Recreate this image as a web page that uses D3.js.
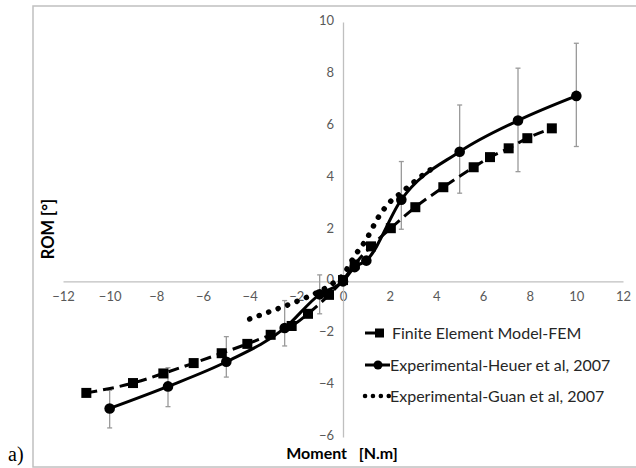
<!DOCTYPE html>
<html>
<head>
<meta charset="utf-8">
<script src="https://cdn.jsdelivr.net/npm/d3@7"></script>
<style>
  body { margin: 0; background: #fff; }
  svg { display: block; font-family: Lato, "Open Sans", sans-serif; }
  .axis text { fill: #595959; font-size: 13px; font-family: Lato, sans-serif; }
  .axis path { stroke: #bfbfbf; stroke-width: 1.3; }
</style>
</head>
<body>
<div id="chart"></div>
<script>
// 축 눈금
const xTicks = [-12, -10, -8, -6, -4, -2, 0, 2, 4, 6, 8, 10, 12];
const yTicks = [-6, -4, -2, 0, 2, 4, 6, 8, 10];

// 유한요소 모델 (FEM)
const femX = [-11, -9, -7.7, -6.4, -5.2, -4.1, -3.1, -2.2, -1.5, -0.6, 0, 0.5, 1.2, 2.05, 3.1, 4.3, 5.6, 6.3, 7.1, 7.9, 8.95];
const femY = [-4.3, -3.92, -3.55, -3.15, -2.77, -2.41, -2.06, -1.72, -1.25, -0.52, 0.05, 0.65, 1.35, 2.05, 2.86, 3.63, 4.4, 4.79, 5.13, 5.52, 5.9];

// 실험값 - Heuer et al, 2007 (오차막대 상한/하한)
const heuerX = [-10, -7.5, -5, -2.5, -1, 0, 0.5, 1, 2.5, 5, 7.5, 10];
const heuerY = [-4.9, -4.05, -3.1, -1.8, -0.5, 0, 0.55, 0.8, 3.15, 5.0, 6.2, 7.15];
const heuerHi = [-4.2, -3.33, -2.13, -0.74, 0.25, null, null, null, 4.62, 6.8, 8.22, 9.18];
const heuerLo = [-5.65, -4.83, -3.69, -2.49, -1.25, null, null, null, 2.01, 3.4, 4.23, 5.2];

// 실험값 - Guan et al, 2007
const guanX = [-4, -3, -2, -1, -0.5, 0, 0.5, 1, 1.5, 2, 2.5, 3, 3.5, 4];
const guanY = [-1.45, -1.12, -0.78, -0.38, -0.12, 0.25, 0.98, 1.62, 2.45, 3.05, 3.42, 3.8, 4.15, 4.45];

const legendLabels = ['Finite Element Model-FEM', 'Experimental-Heuer et al, 2007', 'Experimental-Guan et al, 2007'];

const W = 636, H = 468;
const svg = d3.select('#chart').append('svg').attr('width', W).attr('height', H);

// 바깥 테두리
svg.append('rect')
    .attr('x', 33).attr('y', 6).attr('width', 620).attr('height', 461)
    .attr('fill', 'none').attr('stroke', '#c0c0c0').attr('stroke-width', 1.5);

const x = d3.scaleLinear().domain([-12, 12]).range([63, 623]);
const y = d3.scaleLinear().domain([-6, 10]).range([437, 22]);

// x축 (y=0 위치)
svg.append('g')
    .attr('class', 'axis')
    .attr('transform', `translate(0,${y(0)})`)
    .call(d3.axisBottom(x).tickValues(xTicks).tickSize(0).tickPadding(12))
    .call(g => g.selectAll('text').attr('dy', '0.6em'));

// y축 (x=0 위치)
svg.append('g')
    .attr('class', 'axis')
    .attr('transform', `translate(${x(0)},0)`)
    .call(d3.axisLeft(y).tickValues(yTicks).tickSize(0).tickPadding(9))
    .call(g => g.selectAll('text').attr('dy', '0.2em'));

// 축 제목
svg.append('text')
    .attr('transform', `translate(54,229) rotate(-90)`)
    .attr('text-anchor', 'middle')
    .attr('font-size', 16.5).attr('font-weight', 'bold')
    .text('ROM [°]');

svg.append('text')
    .attr('x', 342).attr('y', 459)
    .attr('text-anchor', 'middle')
    .attr('font-size', 16).attr('font-weight', 'bold')
    .style('white-space', 'pre')
    .text('Moment   [N.m]');

// 선 생성기
const line = d3.line().x(d => x(d[0])).y(d => y(d[1])).curve(d3.curveMonotoneX);

const femData = femX.map((v, i) => [v, femY[i]]);
const heuerData = heuerX.map((v, i) => [v, heuerY[i], heuerHi[i], heuerLo[i]]);
const guanData = guanX.map((v, i) => [v, guanY[i]]);

// 오차막대
const eb = svg.append('g').attr('stroke', '#9a9a9a').attr('stroke-width', 1.3);
heuerData.filter(d => d[2] !== null).forEach(d => {
    const cx = x(d[0]);
    eb.append('line').attr('x1', cx).attr('x2', cx).attr('y1', y(d[2])).attr('y2', y(d[3]));
    eb.append('line').attr('x1', cx - 2.5).attr('x2', cx + 2.5).attr('y1', y(d[2])).attr('y2', y(d[2]));
    eb.append('line').attr('x1', cx - 2.5).attr('x2', cx + 2.5).attr('y1', y(d[3])).attr('y2', y(d[3]));
});

// Guan 점선
svg.append('path')
    .attr('d', line(guanData))
    .attr('fill', 'none').attr('stroke', '#000').attr('stroke-width', 5.5)
    .attr('stroke-linecap', 'round').attr('stroke-dasharray', '0.1 10');

// FEM 파선
svg.append('path')
    .attr('d', line(femData))
    .attr('fill', 'none').attr('stroke', '#000').attr('stroke-width', 3)
    .attr('stroke-dasharray', '11 6');

svg.selectAll('rect.fem')
    .data(femData)
    .enter()
    .append('rect')
    .attr('class', 'fem')
    .attr('x', d => x(d[0]) - 5).attr('y', d => y(d[1]) - 5)
    .attr('width', 10).attr('height', 10)
    .attr('fill', '#000');

// Heuer 실선
svg.append('path')
    .attr('d', line(heuerData))
    .attr('fill', 'none').attr('stroke', '#000').attr('stroke-width', 3);

svg.selectAll('circle.heuer')
    .data(heuerData)
    .enter()
    .append('circle')
    .attr('class', 'heuer')
    .attr('cx', d => x(d[0])).attr('cy', d => y(d[1]))
    .attr('r', 5.3)
    .attr('fill', '#000');

// 범례
const lg = svg.append('g');
const rowY = [333, 365, 396];

lg.append('line').attr('x1', 365).attr('x2', 376).attr('y1', rowY[0]).attr('y2', rowY[0])
    .attr('stroke', '#000').attr('stroke-width', 3);
lg.append('rect').attr('x', 375).attr('y', rowY[0] - 4.5).attr('width', 9).attr('height', 9).attr('fill', '#000');

lg.append('line').attr('x1', 365).attr('x2', 390).attr('y1', rowY[1]).attr('y2', rowY[1])
    .attr('stroke', '#000').attr('stroke-width', 3);
lg.append('circle').attr('cx', 378).attr('cy', rowY[1]).attr('r', 4.5).attr('fill', '#000');

lg.append('line').attr('x1', 365).attr('x2', 389).attr('y1', rowY[2]).attr('y2', rowY[2])
    .attr('stroke', '#000').attr('stroke-width', 4.5)
    .attr('stroke-linecap', 'round').attr('stroke-dasharray', '0.1 7.8');

lg.selectAll('text')
    .data(legendLabels)
    .enter()
    .append('text')
    .attr('x', (d, i) => i === 0 ? 392 : 390)
    .attr('y', (d, i) => rowY[i] + 5.5)
    .attr('font-size', 16)
    .attr('fill', '#262626')
    .text(d => d);

// 그림 번호
svg.append('text')
    .attr('x', 8).attr('y', 461)
    .attr('font-family', '"Liberation Serif", serif')
    .attr('font-size', 20)
    .text('a)');
</script>
</body>
</html>
